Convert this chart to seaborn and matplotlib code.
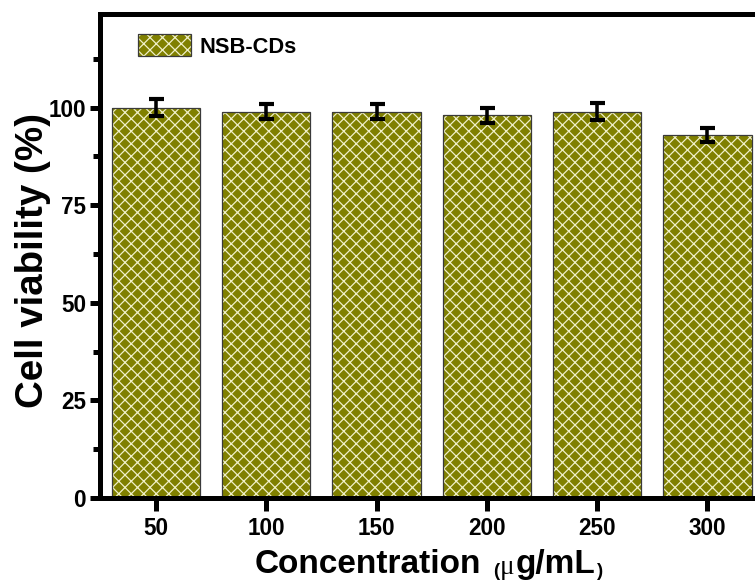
import matplotlib
matplotlib.use("Agg")
import matplotlib.pyplot as plt
import numpy as np
import pandas as pd
import seaborn as sns
from matplotlib.patches import Patch
from matplotlib.legend_handler import HandlerTuple
from matplotlib.ticker import MultipleLocator

# data
concentration = ["50", "100", "150", "200", "250", "300"]
viability = [100, 99, 99, 98, 99, 93]
viability_sd = [2.1, 2.0, 2.0, 1.9, 2.1, 1.9]
series_name = "NSB-CDs"

olive = "#808000"
hatch_col = "#f0f0c8"
edge_col = "#3a3a3a"

sns.set_style("ticks")
plt.rcParams["font.family"] = ["Liberation Sans", "DejaVu Sans"]
plt.rcParams["font.weight"] = "bold"
plt.rcParams["axes.labelweight"] = "bold"
plt.rcParams["hatch.linewidth"] = 0.6
for k in ["text.color", "axes.labelcolor", "xtick.color", "ytick.color",
          "xtick.labelcolor", "ytick.labelcolor"]:
    plt.rcParams[k] = "black"

df = pd.DataFrame({"conc": concentration, "cv": viability})

fig = plt.figure(figsize=(755 / 150, 584 / 150), dpi=150)
ax = fig.add_axes([0.1318, 0.1473, 0.880, 0.8288])

# filled bars, hatch takes the edge colour
sns.barplot(data=df, x="conc", y="cv", order=concentration, color=olive,
            saturation=1, edgecolor=hatch_col, linewidth=0, width=0.8,
            errorbar=None, ax=ax)
for p in ax.patches:
    p.set_hatch("xxxx")
# dark outlines on top
sns.barplot(data=df, x="conc", y="cv", order=concentration, fill=False,
            color=edge_col, linewidth=0.6, width=0.8, errorbar=None, ax=ax)

ax.errorbar(np.arange(len(concentration)), viability, yerr=viability_sd,
            fmt="none", ecolor="black", elinewidth=1.7, capsize=3.6,
            capthick=2.0, zorder=5)

ax.set_xlim(-0.512, len(concentration) - 1 + 0.512)
ax.set_ylim(0, 124)
ax.set_yticks([0, 25, 50, 75, 100])
ax.yaxis.set_minor_locator(MultipleLocator(12.5))

for s in ax.spines.values():
    s.set_linewidth(2.4)
    s.set_color("black")
    s.set_visible(True)

ax.tick_params(axis="x", which="major", direction="out", length=6, width=2.4,
               labelsize=10.8, pad=3, top=False, colors="black")
ax.tick_params(axis="y", which="major", direction="out", length=5, width=2.4,
               labelsize=10.8, pad=1.5, right=False, colors="black")
ax.tick_params(axis="y", which="minor", direction="out", length=3.5, width=2.4,
               right=False, colors="black")
ax.tick_params(axis="x", which="minor", bottom=False, top=False)

ax.set_xlabel("")
ax.set_ylabel("Cell viability (%)", fontsize=18.5, fontweight="bold",
              va="center", color="black")
ax.yaxis.set_label_coords(-0.1, 0.49)

# x label built from pieces of different size
t1 = ax.text(0.234, -0.155, "Concentration", transform=ax.transAxes,
             fontsize=16, fontweight="bold", ha="left", va="baseline",
             color="black")
p1 = ax.annotate("(", xy=(1, 0), xycoords=t1, xytext=(5.5, 0),
                 textcoords="offset points", fontsize=9, fontweight="bold",
                 ha="left", va="bottom", color="black")
mu = ax.annotate("\u03bc", xy=(1, 0), xycoords=p1, xytext=(0.5, 0),
                 textcoords="offset points", fontsize=13, fontweight="normal",
                 family=["Liberation Serif", "DejaVu Serif"],
                 ha="left", va="bottom", color="black")
g = ax.annotate("g/mL", xy=(1, 0), xycoords=mu, xytext=(0.5, 0),
                textcoords="offset points", fontsize=16, fontweight="bold",
                ha="left", va="bottom", color="black")
ax.annotate(")", xy=(1, 0), xycoords=g, xytext=(0.5, 0),
            textcoords="offset points", fontsize=9, fontweight="bold",
            ha="left", va="bottom", color="black")

handle = (Patch(facecolor=olive, edgecolor=hatch_col, hatch="xxxx", linewidth=0),
          Patch(facecolor="none", edgecolor=edge_col, linewidth=0.6))
ax.legend(handles=[handle], labels=[series_name],
          handler_map={tuple: HandlerTuple(ndivide=1, pad=0)},
          loc="upper left", bbox_to_anchor=(0.0586, 0.9587), borderpad=0,
          borderaxespad=0, frameon=False, handlelength=2.4, handleheight=1.2,
          handletextpad=0.37, fontsize=10.5, labelcolor="black")

fig.savefig("out.png", dpi=150)
